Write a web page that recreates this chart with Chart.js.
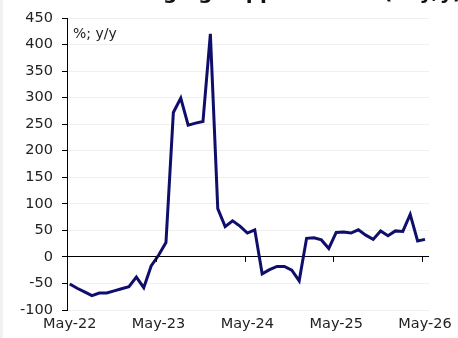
<!DOCTYPE html>
<html>
<head>
<meta charset="utf-8">
<script src="https://cdn.jsdelivr.net/npm/chart.js@4/dist/chart.umd.min.js"></script>
<style>
    html, body { margin: 0; padding: 0; background: #fff; }
    #wrap { position: relative; width: 458px; height: 338px; overflow: hidden; }
    #edge { position: absolute; left: 0; top: 0; width: 3px; height: 338px; background: #f1f1f1; }
    #title {
        position: absolute; right: -4px; top: -20px; line-height: 20px;
        font: bold 20px "DejaVu Sans", sans-serif; color: #111; white-space: nowrap;
    }
    #unit {
        position: absolute; left: 73px; top: 25px;
        font: 14px "DejaVu Sans", sans-serif; color: #222;
    }
</style>
</head>
<body>
<div id="wrap">
    <canvas id="chart" width="458" height="338"></canvas>
    <div id="edge"></div>
    <div id="title">Lodging support index (% y/y)</div>
    <div id="unit">%; y/y</div>
</div>
<script>
// monthly observations, May-22 .. May-26
const months = [
    'May-22', 'Jun-22', 'Jul-22', 'Aug-22', 'Sep-22', 'Oct-22', 'Nov-22', 'Dec-22',
    'Jan-23', 'Feb-23', 'Mar-23', 'Apr-23', 'May-23', 'Jun-23', 'Jul-23', 'Aug-23',
    'Sep-23', 'Oct-23', 'Nov-23', 'Dec-23', 'Jan-24', 'Feb-24', 'Mar-24', 'Apr-24',
    'May-24', 'Jun-24', 'Jul-24', 'Aug-24', 'Sep-24', 'Oct-24', 'Nov-24', 'Dec-24',
    'Jan-25', 'Feb-25', 'Mar-25', 'Apr-25', 'May-25', 'Jun-25', 'Jul-25', 'Aug-25',
    'Sep-25', 'Oct-25', 'Nov-25', 'Dec-25', 'Jan-26', 'Feb-26', 'Mar-26', 'Apr-26',
    'May-26'
];
const yoy = [
    -51, -59, -66, -73, -68, -68, -64, -60, -56, -38, -58, -17,
    3, 27, 272, 299, 248, 252, 255, 420, 91, 57, 68, 58,
    45, 51, -32, -24, -18, -18, -25, -45, 35, 36, 32, 16,
    46, 47, 45, 51, 41, 33, 49, 40, 49, 48, 80, 30,
    33
];
const xTickMonths = ['May-22', 'May-23', 'May-24', 'May-25', 'May-26'];
const yMin = -100, yMax = 450, yStep = 50;

const LINE = '#0f0f6b';
const FONT = { family: 'DejaVu Sans', size: 14.5 };

// little tick marks hanging under the zero line at each year label
const zeroTicks = {
    id: 'zeroTicks',
    afterDatasetsDraw(chart) {
        const x = chart.scales.x, y = chart.scales.y;
        const y0 = y.getPixelForValue(0);
        const ctx = chart.ctx;
        ctx.save();
        ctx.strokeStyle = '#000';
        ctx.lineWidth = 1;
        xTickMonths.slice(1).forEach(m => {
            const px = Math.round(x.getPixelForValue(months.indexOf(m) - 0.37)) + 0.5;
            ctx.beginPath();
            ctx.moveTo(px, y0);
            ctx.lineTo(px, y0 + 5);
            ctx.stroke();
        });
        ctx.restore();
    }
};

new Chart(document.getElementById('chart'), {
    type: 'line',
    data: {
        datasets: [{
            data: yoy.map((v, i) => ({ x: i, y: v })),
            borderColor: LINE,
            borderWidth: 3,
            pointRadius: 0,
            tension: 0
        }]
    },
    options: {
        responsive: false,
        animation: false,
        layout: { padding: { top: 18, right: 26, left: 0, bottom: 0 } },
        plugins: { legend: { display: false }, tooltip: { enabled: false } },
        scales: {
            x: {
                type: 'linear',
                min: -0.37,
                max: 48.55,
                afterBuildTicks: s => { s.ticks = xTickMonths.map(m => ({ value: months.indexOf(m) })); },
                afterFit: s => { s.height = 28; },
                grid: { display: false, drawTicks: false },
                border: { display: false },
                ticks: {
                    callback: v => months[v],
                    color: '#222',
                    font: FONT,
                    padding: 6,
                    maxRotation: 0,
                    autoSkip: false
                }
            },
            y: {
                min: yMin,
                max: yMax,
                afterFit: s => { s.width = 67; },
                ticks: { stepSize: yStep, color: '#222', font: FONT, padding: 9 },
                grid: {
                    color: c => (c.tick && c.tick.value === 0 ? '#000' : '#efefef'),
                    tickColor: '#000',
                    tickLength: 5
                },
                border: { color: '#000', width: 1 }
            }
        }
    },
    plugins: [zeroTicks]
});
</script>
</body>
</html>
